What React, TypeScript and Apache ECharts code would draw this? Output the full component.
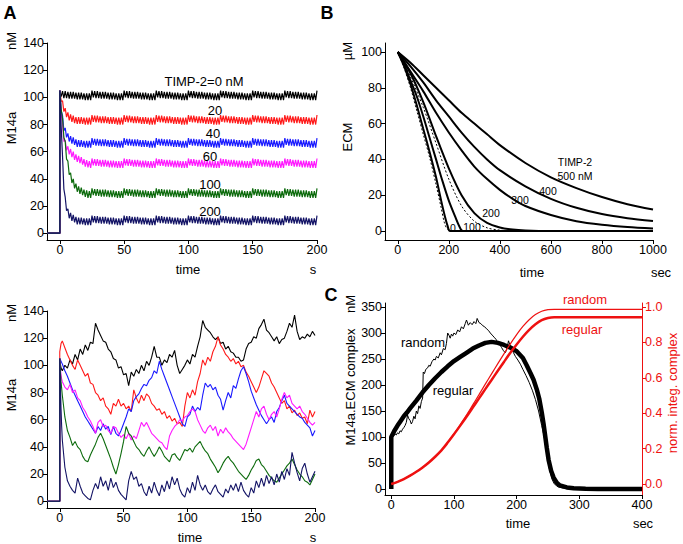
import React, { useEffect, useRef } from "react";
import * as echarts from "echarts";

const FONT = "'Liberation Sans', Arial, Helvetica, sans-serif";
const COLORS = ["#000000", "#ff1a1a", "#1a1aff", "#ff1aff", "#0d6b0d", "#141466"];
const RED = "#ee1111";

// ---------- Panel A (top): deterministic runs, TIMP-2 = 0,20,40,60,100,200 nM ----------
const A_TOP_LEVELS = [101, 83, 66, 51, 29, 9];
const A_TOP_STEP = 25 / 24; // spacing of the sawtooth samples (s)
const A_TOP_RIPPLE = [4, -1, 3.5, -1.5, 3.5, -1.5, 3, -2, 3, -2, 3, -2, 2.5, -2.5, 2.5, -2.5, 2.5, -2.5, 2, -3, 2, -3, 2, -3];
const A_TOP_EXCESS = [
  [0, 0.5],
  [18, 15, 11, 8, 5.5, 4, 3, 2, 1.5, 1, 0.5],
  [35, 25, 17, 11, 8, 6, 4.5, 3.5, 2.5, 2, 1.5, 1, 0.5],
  [50, 38, 26, 18, 14, 11.5, 10, 9, 8, 7, 6, 5, 4.5, 4, 3.5, 3, 2.5, 2, 1.5, 1, 0.8, 0.5],
  [72, 63, 52, 43, 35, 27, 21, 16, 12.5, 10, 8, 6, 5, 4, 3, 2.5, 2, 1.5, 1, 0.8, 0.5],
  [92, 70, 44, 25, 14, 9, 6, 4, 3, 2, 1.5, 1, 0.5],
];
const A_TOP_LABELS = ["TIMP-2=0 nM", "20", "40", "60", "100", "200"];

// ---------- Panel A (bottom): stochastic runs, values every 2 s from t=0 ----------
const A_BOT_EARLY_T = [0.5, 1, 1.5];
const A_BOT_EARLY = [
  [101, 98, 97],
  [113, 116, 117],
  [104, 103, 102],
  [97, 93, 90],
  [95, 88, 83],
  [85, 68, 55],
];
const A_BOT_BLACK = [
  105, 96, 100, 98, 104, 101, 108, 104, 112, 108,
  115, 111, 117, 116, 131, 126, 122, 118, 117, 112,
  110, 105, 104, 98, 99, 93, 94, 85, 95, 92,
  97, 94, 100, 96, 103, 100, 106, 114, 106, 106,
  100, 104, 102, 108, 106, 111, 100, 94, 97, 100,
  104, 101, 108, 106, 114, 121, 133, 128, 126, 124,
  121, 119, 121, 116, 117, 112, 114, 110, 109, 106,
  106, 103, 104, 112, 116, 117, 121, 120, 127, 130,
  134, 126, 124, 121, 118, 121, 116, 119, 120, 125,
  131, 128, 137, 125, 119, 121, 120, 123, 121, 125,
  122,
];
const A_BOT_RED = [
  110, 118, 113, 108, 104, 100, 97, 104, 100, 96,
  92, 94, 87, 86, 80, 78, 74, 76, 70, 68,
  64, 72, 70, 75, 70, 72, 68, 70, 66, 82,
  76, 72, 78, 74, 79, 77, 72, 70, 67, 68,
  64, 66, 61, 63, 59, 61, 57, 58, 55, 70,
  80, 76, 82, 78, 88, 94, 104, 100, 106, 103,
  110, 114, 121, 115, 112, 108, 106, 103, 105, 101,
  103, 99, 100, 95, 92, 88, 84, 80, 84, 90,
  96, 94, 92, 87, 84, 80, 76, 72, 74, 68,
  70, 65, 67, 63, 65, 61, 62, 57, 67, 62,
  66,
];
const A_BOT_BLUE = [
  105, 101, 96, 92, 87, 82, 78, 74, 70, 66,
  62, 59, 56, 53, 50, 55, 52, 57, 53, 55,
  49, 55, 50, 48, 52, 57, 62, 68, 66, 74,
  77, 79, 83, 86, 85, 89, 91, 96, 94, 103,
  97, 92, 87, 82, 77, 72, 67, 62, 57, 55,
  62, 64, 70, 66, 69, 67, 78, 87, 84, 86,
  82, 84, 78, 75, 67, 74, 80, 76, 85, 83,
  90, 96, 99, 94, 88, 81, 76, 71, 67, 63,
  60, 57, 60, 62, 58, 66, 69, 74, 78, 72,
  70, 68, 66, 64, 62, 61, 58, 56, 54, 48,
  52,
];
const A_BOT_MAGENTA = [
  105, 88, 84, 82, 86, 80, 82, 76, 74, 69,
  66, 62, 59, 55, 50, 58, 60, 55, 56, 52,
  50, 55, 54, 50, 47, 49, 46, 50, 45, 48,
  46, 52, 58, 55, 58, 54, 50, 48, 46, 44,
  43, 40, 38, 48, 52, 55, 57, 60, 59, 62,
  63, 66, 68, 66, 60, 56, 52, 50, 54, 56,
  52, 55, 48, 53, 50, 54, 51, 49, 46, 44,
  42, 40, 38, 42, 48, 54, 60, 66, 62, 68,
  70, 64, 60, 64, 66, 62, 68, 75, 80, 76,
  78, 72, 70, 68, 70, 66, 64, 61, 58, 56,
  58,
];
const A_BOT_GREEN = [
  105, 78, 62, 52, 47, 41, 44, 40, 38, 33,
  30, 29, 34, 38, 42, 47, 50, 46, 41, 36,
  31, 25, 20, 27, 35, 44, 55, 50, 48, 44,
  40, 38, 35, 33, 37, 40, 36, 33, 36, 40,
  37, 33, 31, 29, 34, 35, 32, 30, 34, 38,
  37, 39, 36, 40, 42, 44, 40, 37, 35, 31,
  28, 25, 21, 24, 28, 31, 33, 30, 28, 25,
  22, 20, 18, 16, 19, 23, 26, 30, 31, 27,
  25, 22, 19, 17, 15, 14, 17, 20, 23, 26,
  28, 31, 27, 23, 20, 18, 15, 14, 12, 16,
  20,
];
const A_BOT_NAVY = [
  105, 45, 25, 15, 11, 8, 6, 17, 11, 6,
  4, 2, 1, 8, 13, 9, 18, 11, 15, 8,
  17, 10, 14, 8, 5, 3, 1, 15, 22, 16,
  18, 11, 13, 7, 4, 11, 6, 14, 8, 4,
  12, 7, 15, 9, 18, 12, 17, 9, 5, 3,
  10, 6, 14, 8, 19, 12, 8, 12, 7, 5,
  9, 12, 7, 5, 3, 9, 6, 12, 8, 13,
  7, 14, 8, 5, 3, 10, 6, 15, 10, 17,
  11, 19, 13, 18, 12, 20, 14, 22, 16, 24,
  19, 36, 28, 21, 15, 24, 28, 20, 14, 18,
  22,
];
const A_BOT_SERIES = [A_BOT_BLACK, A_BOT_RED, A_BOT_BLUE, A_BOT_MAGENTA, A_BOT_GREEN, A_BOT_NAVY];
const A_BOT_DT = 2;

// ---------- Panel B: ECM degradation, [time s, ECM uM] ----------
const B_SOLID = [
  [[0, 100], [25, 92], [50, 82], [75, 70], [100, 57], [125, 44], [150, 30], [170, 17], [185, 8], [195, 3], [205, 0], [1000, 0]],
  [[0, 100], [25, 93], [50, 84], [75, 75], [100, 64], [125, 52], [150, 40], [175, 28], [200, 17], [225, 8], [240, 3], [255, 0], [1000, 0]],
  [[0, 100], [50, 88], [100, 72], [150, 53], [200, 35], [250, 20], [300, 10], [350, 4.5], [400, 2], [450, 0.8], [500, 0.3], [600, 0], [1000, 0]],
  [[0, 100], [50, 89], [100, 78], [150, 66], [200, 55], [250, 45], [300, 36], [350, 29], [400, 23], [450, 18], [500, 14], [600, 9], [700, 5.5], [800, 3.5], [900, 2.2], [1000, 1.4]],
  [[0, 100], [50, 92], [100, 83], [150, 73], [200, 64], [250, 55], [300, 47], [350, 40], [400, 34], [500, 25], [600, 18], [700, 13], [800, 9.5], [900, 7.2], [1000, 5.6]],
  [[0, 100], [50, 94], [100, 87], [150, 80], [200, 73], [250, 66], [300, 60], [350, 54], [400, 48], [500, 38], [600, 30], [700, 24], [800, 19], [900, 15], [1000, 12]],
];
const B_DOTTED = [
  [[0, 100], [25, 91], [50, 80], [75, 67], [100, 54], [125, 41], [150, 26], [170, 13], [182, 5], [192, 1.5], [205, 0.3], [215, 0]],
  [[0, 100], [50, 86], [100, 69], [150, 49], [200, 29], [250, 14], [300, 5.5], [350, 1.8], [400, 0.5], [450, 0]],
];
const B_LABELS = ["0", "100", "200", "300", "400", "500 nM"];

// ---------- Panel C: M14a.ECM complex (nM) and normalised integral ----------
const C_REGULAR = [
  [0, 0], [0, 100], [5, 112], [10, 122], [15, 131], [20, 140], [25, 147], [30, 155], [40, 170], [50, 186], [60, 200], [70, 213],
  [80, 225], [90, 236], [100, 246], [110, 254], [120, 262], [130, 270], [140, 276], [150, 281], [160, 283], [170, 281],
  [180, 277], [190, 272], [200, 265], [210, 252], [216, 238], [222, 223], [227, 210], [232, 192], [236, 174], [240, 148],
  [243, 125], [245, 107], [248, 80], [251, 56], [255, 35], [259, 22], [264, 12], [269, 7], [280, 3], [291, 1.5], [310, 0.5],
  [330, 0], [400, 0],
];
const C_RANDOM = [
  [0, 0], [0, 100], [2, 104], [4, 102], [6, 106], [8, 104], [10, 108], [12, 106], [14, 112], [16, 110], [18, 115], [20, 118],
  [22, 122], [24, 128], [26, 142], [28, 135], [30, 132], [32, 125], [34, 130], [36, 140], [38, 135], [40, 150], [42, 145],
  [44, 160], [46, 155], [48, 168], [50, 175], [51, 225], [53, 222], [55, 230], [58, 233], [60, 238], [62, 236], [65, 245],
  [68, 250], [70, 248], [72, 255], [75, 252], [78, 262], [80, 258], [83, 270], [86, 268], [88, 280], [90, 300], [92, 296],
  [94, 290], [96, 298], [98, 294], [100, 300], [103, 297], [106, 306], [109, 302], [112, 312], [115, 308], [118, 318],
  [120, 325], [123, 315], [126, 320], [129, 316], [132, 322], [135, 318], [137, 328], [140, 320], [143, 318], [146, 314],
  [149, 312], [152, 308], [155, 305], [158, 300], [161, 296], [164, 292], [167, 288], [170, 282], [173, 278], [176, 272],
  [179, 266], [182, 262], [185, 272], [187, 285], [189, 278], [192, 270], [195, 262], [198, 255], [202, 248], [206, 240],
  [210, 230], [215, 218], [220, 205], [225, 190], [230, 172], [235, 150], [240, 122], [245, 95], [248, 70], [252, 40],
  [256, 20], [260, 10], [266, 4], [275, 1.5], [300, 0], [400, 0],
];
const C_INT_REGULAR = [
  [0, 0], [10, 0.012], [20, 0.028], [30, 0.047], [40, 0.069], [50, 0.094], [60, 0.122], [70, 0.154], [80, 0.19], [90, 0.234],
  [100, 0.281], [110, 0.33], [120, 0.38], [130, 0.432], [140, 0.484], [150, 0.536], [160, 0.588], [170, 0.64], [180, 0.691],
  [190, 0.741], [200, 0.788], [210, 0.832], [220, 0.871], [230, 0.903], [240, 0.926], [250, 0.938], [260, 0.942], [400, 0.942],
];
const C_INT_RANDOM = [
  [0, 0], [10, 0.012], [20, 0.028], [30, 0.047], [40, 0.069], [50, 0.094], [60, 0.122], [70, 0.154], [80, 0.19], [90, 0.234],
  [100, 0.283], [110, 0.335], [120, 0.39], [130, 0.447], [140, 0.505], [150, 0.564], [160, 0.622], [170, 0.68], [180, 0.737],
  [190, 0.792], [200, 0.844], [210, 0.89], [220, 0.928], [230, 0.957], [240, 0.976], [250, 0.985], [260, 0.987], [400, 0.987],
];

// tick values
const A_X_TICKS = [0, 50, 100, 150, 200];
const A_Y_TICKS = [0, 20, 40, 60, 80, 100, 120, 140];
const B_X_TICKS = [0, 200, 400, 600, 800, 1000];
const B_Y_TICKS = [0, 20, 40, 60, 80, 100];
const C_X_TICKS = [0, 100, 200, 300, 400];
const C_YL_TICKS = [0, 50, 100, 150, 200, 250, 300, 350];
const C_YR_TICKS = [0, 0.2, 0.4, 0.6, 0.8, 1.0];

function buildATop(i: number) {
  const pts: number[][] = [[-10, 0], [0, 0]];
  const ex = A_TOP_EXCESS[i];
  for (let k = 0; k <= 192; k++) {
    const t = k * A_TOP_STEP;
    pts.push([t, A_TOP_LEVELS[i] + (ex[k] ?? 0) + A_TOP_RIPPLE[k % A_TOP_RIPPLE.length]]);
  }
  return pts;
}

function buildABot(i: number) {
  const vals = A_BOT_SERIES[i];
  const pts: number[][] = [[-10, 0], [0, 0], [0, vals[0]]];
  A_BOT_EARLY_T.forEach((t, j) => pts.push([t, A_BOT_EARLY[i][j]]));
  for (let k = 1; k < vals.length; k++) pts.push([k * A_BOT_DT, vals[k]]);
  return pts;
}

function axis(gridIndex: number, min: number, max: number, ticks: number[], color = "#000", extra: any = {}, fmt?: (v: number) => string) {
  return {
    type: "value",
    gridIndex,
    min,
    max,
    axisLine: { show: true, onZero: false, lineStyle: { color, width: 1 } },
    axisTick: { show: true, customValues: ticks, length: 4, lineStyle: { color, width: 1 } },
    axisLabel: {
      show: true, customValues: ticks, fontSize: 12.5, fontFamily: FONT, color, margin: 3,
      formatter: fmt ?? ((v: number) => String(v)),
    },
    splitLine: { show: false },
    ...extra,
  };
}

function txt(text: string, x: number, y: number, o: any = {}) {
  const size = o.size ?? 13;
  return {
    type: "text",
    x,
    y,
    rotation: o.rot ?? 0,
    z: 100,
    style: {
      text,
      fill: o.color ?? "#000",
      font: `${o.bold ? "bold " : ""}${size}px ${FONT}`,
      fontSize: size,
      fontFamily: FONT,
      fontWeight: o.bold ? "bold" : "normal",
      textAlign: o.align ?? "center",
      align: o.align ?? "center",
      textVerticalAlign: "middle",
      verticalAlign: "middle",
    },
  };
}

export default function App() {
  const ref = useRef<HTMLDivElement>(null);
  useEffect(() => {
    const chart = echarts.init(ref.current!, null, { renderer: "svg" });
    const series: any[] = [];
    for (let i = 0; i < 6; i++) {
      series.push({
        type: "line", xAxisIndex: 0, yAxisIndex: 0, data: buildATop(i), symbol: "none", silent: true,
        lineStyle: { width: 1.2, color: COLORS[i] }, itemStyle: { color: COLORS[i] },
      });
    }
    for (let i = 0; i < 6; i++) {
      series.push({
        type: "line", xAxisIndex: 1, yAxisIndex: 1, data: buildABot(i), symbol: "none", silent: true,
        lineStyle: { width: 1.1, color: COLORS[i] }, itemStyle: { color: COLORS[i] },
      });
    }
    B_DOTTED.forEach((d) =>
      series.push({
        type: "line", xAxisIndex: 2, yAxisIndex: 2, data: d, symbol: "none", silent: true, smooth: 0.3,
        lineStyle: { width: 1, color: "#000", type: [2, 2] }, itemStyle: { color: "#000" },
      })
    );
    B_SOLID.forEach((d) =>
      series.push({
        type: "line", xAxisIndex: 2, yAxisIndex: 2, data: d, symbol: "none", silent: true, smooth: 0.3,
        lineStyle: { width: 2, color: "#000" }, itemStyle: { color: "#000" },
      })
    );
    series.push({
      type: "line", xAxisIndex: 3, yAxisIndex: 3, data: C_REGULAR, symbol: "none", silent: true,
      lineStyle: { width: 4.5, color: "#000" }, itemStyle: { color: "#000" },
    });
    series.push({
      type: "line", xAxisIndex: 3, yAxisIndex: 3, data: C_RANDOM, symbol: "none", silent: true,
      lineStyle: { width: 1, color: "#000" }, itemStyle: { color: "#000" },
    });
    series.push({
      type: "line", xAxisIndex: 3, yAxisIndex: 4, data: C_INT_REGULAR, symbol: "none", silent: true, smooth: 0.3,
      lineStyle: { width: 2.5, color: RED }, itemStyle: { color: RED },
    });
    series.push({
      type: "line", xAxisIndex: 3, yAxisIndex: 4, data: C_INT_RANDOM, symbol: "none", silent: true, smooth: 0.3,
      lineStyle: { width: 1.2, color: RED }, itemStyle: { color: RED },
    });

    const aTopLabelPos = [[204, 81], [215, 110], [213, 133], [210, 156], [210, 184], [210, 211]];
    const bLabelPos = [[453, 228], [472, 227], [491, 213], [520, 200], [548, 191], [575, 176]];

    const graphics: any[] = [
      txt("A", 10, 13, { size: 18, bold: true }),
      txt("B", 327, 13, { size: 18, bold: true }),
      txt("C", 331, 295, { size: 18, bold: true }),
      // A top
      txt("nM", 11, 41, { rot: Math.PI / 2 }),
      txt("M14a", 11, 128, { rot: Math.PI / 2 }),
      txt("time", 188, 269),
      txt("s", 313, 269),
      // A bottom
      txt("nM", 11, 313, { rot: Math.PI / 2 }),
      txt("M14a", 11, 395, { rot: Math.PI / 2 }),
      txt("time", 190, 537),
      txt("s", 313, 537),
      // B
      txt("\u00b5M", 347, 51, { rot: Math.PI / 2 }),
      txt("ECM", 347, 137, { rot: Math.PI / 2 }),
      txt("time", 532, 272),
      txt("sec", 661, 272),
      txt("TIMP-2", 575, 162, { size: 10.5 }),
      // C
      txt("nM", 350, 304, { rot: Math.PI / 2 }),
      txt("M14a.ECM complex", 350, 387, { rot: Math.PI / 2 }),
      txt("norm. integ. complex", 672, 393, { rot: Math.PI / 2, color: RED }),
      txt("time", 518, 523),
      txt("sec", 643, 523),
      txt("random", 423, 342),
      txt("regular", 453, 390),
      txt("random", 585, 299, { color: RED }),
      txt("regular", 582, 329, { color: RED }),
    ];
    A_TOP_LABELS.forEach((l, i) => graphics.push(txt(l, aTopLabelPos[i][0], aTopLabelPos[i][1])));
    B_LABELS.forEach((l, i) => graphics.push(txt(l, bLabelPos[i][0], bLabelPos[i][1], { size: 10.5 })));

    chart.setOption({
      animation: false,
      backgroundColor: "#fff",
      textStyle: { fontFamily: FONT },
      grid: [
        { left: 47, top: 43, width: 270, height: 197 },
        { left: 47, top: 311, width: 268, height: 197 },
        { left: 385, top: 43, width: 268, height: 197 },
        { left: 385, top: 303, width: 257, height: 192 },
      ],
      xAxis: [
        axis(0, -10, 200, A_X_TICKS),
        axis(1, -10, 200, A_X_TICKS),
        axis(2, -50, 1000, B_X_TICKS),
        axis(3, -10, 400, C_X_TICKS),
      ],
      yAxis: [
        axis(0, -5, 140, A_Y_TICKS),
        axis(1, -5, 140, A_Y_TICKS),
        axis(2, -5, 105, B_Y_TICKS),
        axis(3, -11.5, 357.7, C_YL_TICKS),
        axis(3, -0.062, 1.0226, C_YR_TICKS, RED, { position: "right" }, (v: number) => v.toFixed(1)),
      ],
      series,
      graphic: graphics,
    });
    return () => chart.dispose();
  }, []);
  return (
    <div
      ref={ref}
      style={{ position: "fixed", left: 0, top: 0, width: 683, height: 544, background: "#fff" }}
    />
  );
}
